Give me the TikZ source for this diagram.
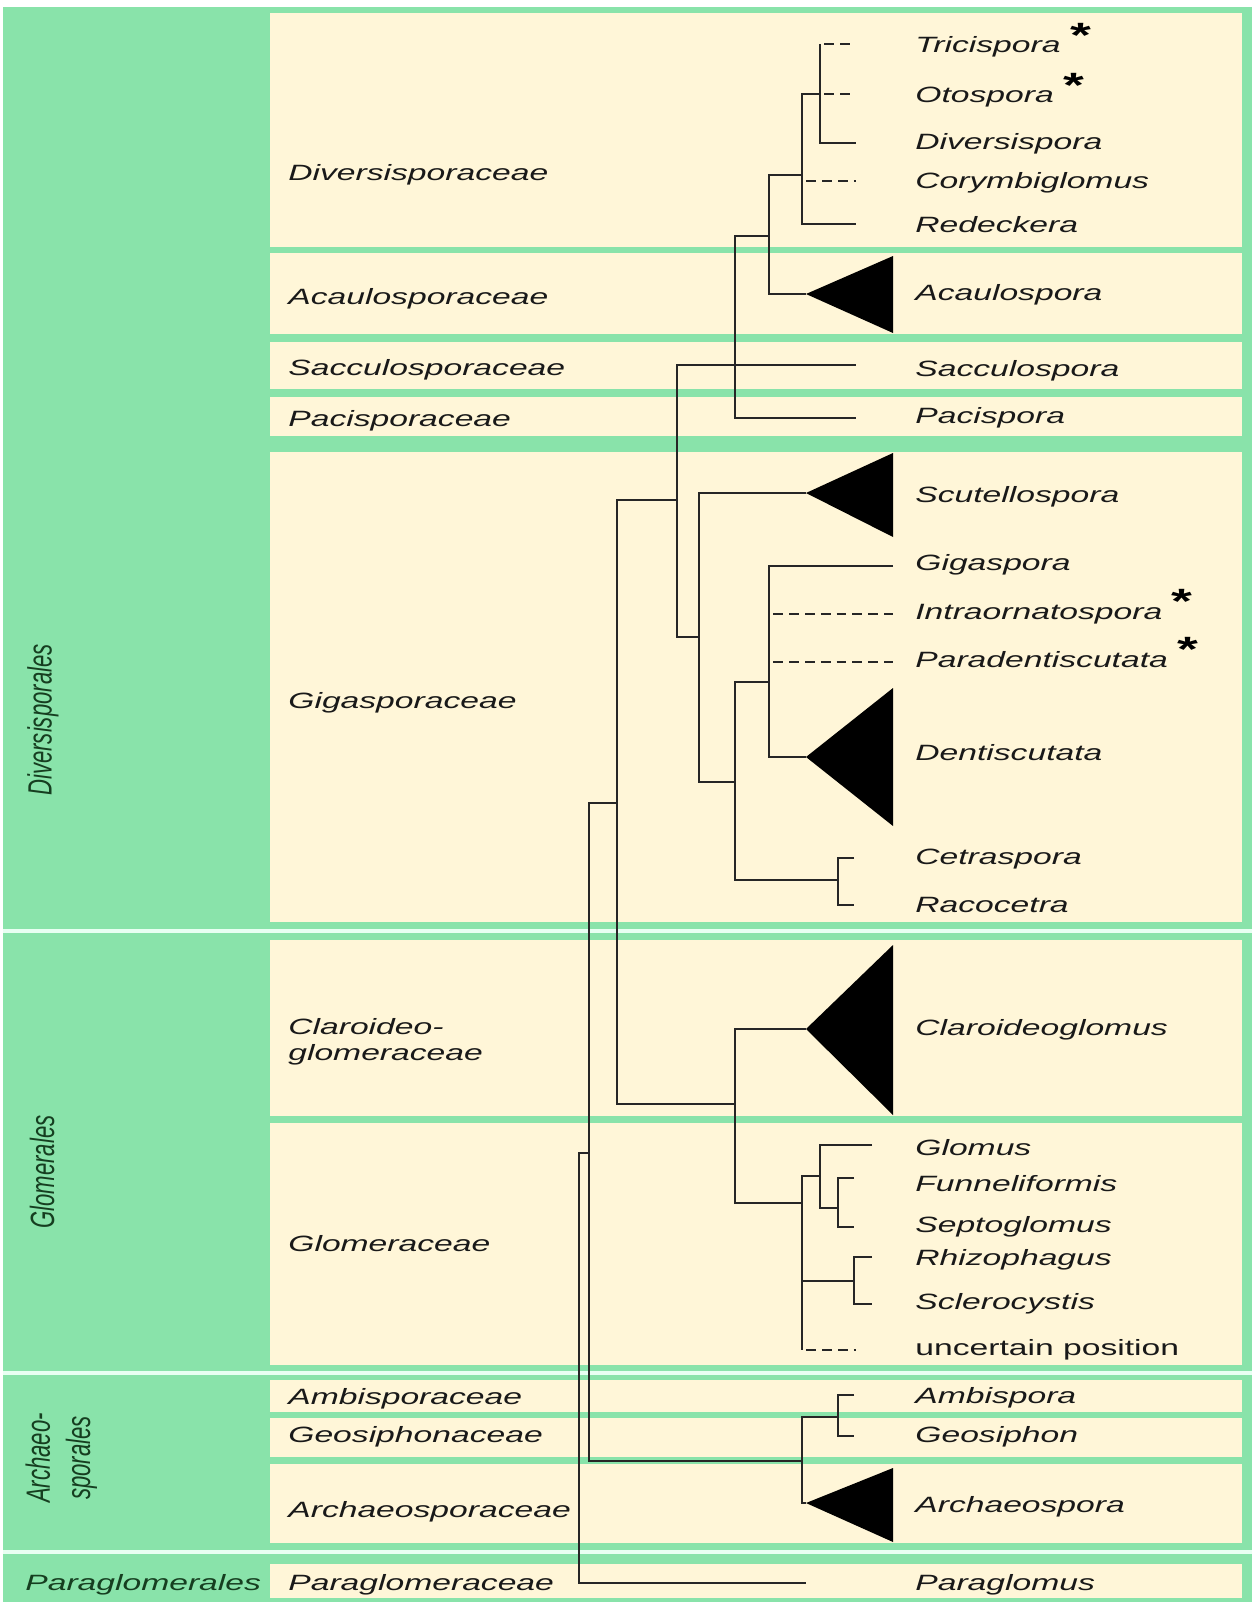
\documentclass[tikz,border=0pt]{standalone}
\usepackage{fontspec}
\setmainfont{Liberation Sans}
\usepackage{graphicx}
\usetikzlibrary{positioning}
\definecolor{leaf}{RGB}{137,227,170}
\definecolor{cream}{RGB}{255,246,216}
\definecolor{sepline}{RGB}{232,255,242}
\definecolor{ordtext}{RGB}{22,62,32}
\newcommand{\hs}[1]{\scalebox{1.52}[1]{#1}}
\newcommand{\vs}[1]{\scalebox{1}[1.52]{#1}}

\begin{document}
\begin{tikzpicture}[
x=0.02cm, y=-0.02cm,
br/.style={line width=0.9pt, black!85},
unc/.style={br, dash pattern=on 5.5pt off 3.5pt, dash phase=6.5pt},
gen/.style={anchor=base west, inner sep=0pt, text=black!90, font=\itshape\fontsize{12.6}{15}\selectfont},
fam/.style={gen},
ord/.style={inner sep=0pt, rotate=90, text=ordtext, font=\itshape\fontsize{12.6}{15}\selectfont},
ast/.style={anchor=base west, inner sep=0pt, font=\bfseries\fontsize{20}{20}\selectfont}
]
\useasboundingbox (0,0) rectangle (1252,1602);

% background
\fill[white] (0,0) rectangle (1252,1602);
\fill[leaf] (3,7) rectangle (1252,1602);
\foreach \a in {929,1371,1550}
  \fill[sepline] (3,\a) rectangle (1252,\a+4);
\foreach \a/\b in {13/247, 253/334, 342/389, 397/436, 452/922, 940/1116,
                   1123/1365, 1380/1412, 1418/1457, 1464/1543, 1564/1598}
  \fill[cream] (270,\a) rectangle (1242,\b);

% orders
\node[ord] (oDiv) at (43,720) {\vs{Diversisporales}};
\node[ord] (oGlo) at (42,1172) {\vs{Glomerales}};
\node[ord] (oArc) at (62,1458) {\vs{\begin{tabular}{@{}c@{}}Archaeo-\\sporales\end{tabular}}};
\node[gen, text=ordtext] (oPar) at (25,1590) {\hs{Paraglomerales}};

% families
\foreach \n/\y/\t in {fDiv/180/Diversisporaceae, fAca/304/Acaulosporaceae,
    fSac/375/Sacculosporaceae, fPac/426/Pacisporaceae, fGig/708/Gigasporaceae,
    fGlo/1251/Glomeraceae, fAmb/1404/Ambisporaceae, fGeo/1442/Geosiphonaceae,
    fArc/1517/Archaeosporaceae, fPar/1590/Paraglomeraceae}
  \node[fam] (\n) at (288,\y) {\hs{\t}};
\node[fam] (fCla) at (288,1034) {\hs{\begin{tabular}[t]{@{}l@{}}Claroideo-\\glomeraceae\end{tabular}}};

% genera
\foreach \n/\y/\t in {lTri/53/Tricispora, lOto/103/Otospora, lDiv/150/Diversispora,
    lCor/188/Corymbiglomus, lRed/232/Redeckera, lAca/300/Acaulospora,
    lSac/376/Sacculospora, lPac/423/Pacispora, lScu/502/Scutellospora,
    lGig/570/Gigaspora, lInt/619/Intraornatospora, lPar/667/Paradentiscutata,
    lDen/760/Dentiscutata, lCet/864/Cetraspora, lRac/912/Racocetra,
    lCla/1035/Claroideoglomus, lGlo/1155/Glomus, lFun/1191/Funneliformis,
    lSep/1232/Septoglomus, lRhi/1265/Rhizophagus, lScl/1309/Sclerocystis,
    lAmb/1403/Ambispora, lGeo/1442/Geosiphon, lArc/1512/Archaeospora,
    lPgl/1590/Paraglomus}
  \node[gen] (\n) at (915,\y) {\hs{\t}};
\node[gen, font=\fontsize{12.6}{15}\selectfont] (lUnc) at (915,1355) {\hs{uncertain position}};

% new genera
\foreach \n in {lTri, lOto, lInt, lPar}
  \node[ast] (a\n) at ([xshift=5pt, yshift=3pt]\n.base east) {\hs{*}};

% tips
\coordinate (tTri) at (856,44);
\coordinate (tOto) at (856,94);
\coordinate (tDiv) at (856,143);
\coordinate (tCor) at (856,181);
\coordinate (tRed) at (856,224);
\coordinate (tAca) at (806,294);
\coordinate (tSac) at (856,365);
\coordinate (tPac) at (856,418);
\coordinate (tScu) at (806,493);
\coordinate (tGig) at (893,566);
\coordinate (tInt) at (893,614);
\coordinate (tPar) at (893,662);
\coordinate (tDen) at (806,757);
\coordinate (tCet) at (854,858);
\coordinate (tRac) at (854,905);
\coordinate (tCla) at (806,1029);
\coordinate (tGlo) at (872,1145);
\coordinate (tFun) at (854,1178);
\coordinate (tSep) at (854,1227);
\coordinate (tRhi) at (872,1257);
\coordinate (tScl) at (872,1304);
\coordinate (tUnc) at (856,1350);
\coordinate (tAmb) at (854,1395);
\coordinate (tGeo) at (854,1436);
\coordinate (tArc) at (806,1503);
\coordinate (tPgl) at (806,1583);

% inner nodes
\coordinate (nA) at (820,94);
\coordinate (nB) at (802,175);
\coordinate (nC) at (769,236);
\coordinate (nD) at (735,365);
\coordinate (nE) at (677,500);
\coordinate (nF) at (699,637);
\coordinate (nG) at (735,782);
\coordinate (nH) at (769,682);
\coordinate (nI) at (838,880);
\coordinate (nJ) at (617,803);
\coordinate (nK) at (735,1104);
\coordinate (nL) at (802,1203);
\coordinate (nM) at (820,1176);
\coordinate (nN) at (838,1208);
\coordinate (nO) at (854,1281);
\coordinate (nP) at (589,1153);
\coordinate (nQ) at (802,1461);
\coordinate (nR) at (838,1417);
\coordinate (root) at (579,1153);

% collapsed clades
\fill (tAca) -- (893,256) -- (893,333) -- cycle;
\fill (tScu) -- (893,453) -- (893,537) -- cycle;
\fill (tDen) -- (893,688) -- (893,826) -- cycle;
\fill (tCla) -- (893,945) -- (893,1115) -- cycle;
\fill (tArc) -- (893,1468) -- (893,1542) -- cycle;

% branches
\draw[br] (nA |- tTri) -- (nA |- tDiv) -- (tDiv);
\draw[unc] (nA |- tTri) -- (tTri);
\draw[unc] (nA) -- (tOto);
\draw[br] (nA) -| (nB |- tRed) -- (tRed);
\draw[unc] (nB |- tCor) -- (tCor);
\draw[br] (nB) -| (nC) |- (tAca);
\draw[br] (nC) -| (nD) |- (tPac);
\draw[br] (nD) -- (tSac);
\draw[br] (nD) -| (nE) |- (nF);
\draw[br] (tScu) -| (nF) |- (nG);
\draw[br] (nH) -| (nG) |- (nI);
\draw[br] (tGig) -| (nH) |- (tDen);
\draw[unc] (nH |- tInt) -- (tInt);
\draw[unc] (nH |- tPar) -- (tPar);
\draw[br] (tCet) -| (nI) |- (tRac);
\draw[br] (nE) -| (nJ) |- (nK);
\draw[br] (tCla) -| (nK) |- (nL);
\draw[br] (nM) -| (nL |- tUnc);
\draw[br] (nL |- nO) -- (nO);
\draw[unc] (nL |- tUnc) -- (tUnc);
\draw[br] (tGlo) -| (nM) |- (nN);
\draw[br] (tFun) -| (nN) |- (tSep);
\draw[br] (tRhi) -| (nO) |- (tScl);
\draw[br] (nJ) -| (nP) |- (nQ);
\draw[br] (nR) -| (nQ) |- (tArc);
\draw[br] (tAmb) -| (nR) |- (tGeo);
\draw[br] (nP) -- (root) |- (tPgl);
\end{tikzpicture}
\end{document}
